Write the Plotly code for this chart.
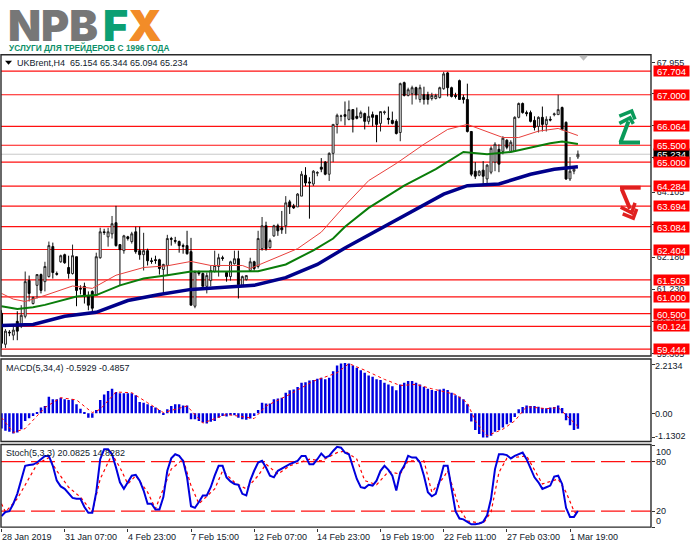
import plotly.graph_objects as go

W, H = 691, 549

# ---------- data ----------
opens = [60.51,59.59,59.95,59.86,60.27,60.13,60.42,61.48,60.80,61.34,61.66,61.45,61.60,62.49,61.69,62.04,62.25,61.87,61.69,62.19,
         61.25,61.31,61.04,61.16,61.04,62.16,62.93,62.78,62.87,63.20,62.55,62.37,62.78,62.64,62.93,62.37,62.25,62.37,62.07,62.10,
         62.10,61.81,61.93,62.73,62.67,62.64,62.52,62.52,62.34,60.72,61.75,61.69,61.31,61.48,61.75,61.90,62.16,61.72,61.60,61.98,
         62.13,61.34,61.51,61.78,62.04,61.90,62.43,63.11,62.46,62.81,63.11,63.05,63.11,63.82,63.70,63.67,63.99,64.61,64.41,64.35,
         64.67,64.85,65.00,64.64,65.26,66.12,66.36,66.41,66.27,66.56,66.36,66.33,66.44,66.21,66.41,66.39,66.15,66.47,66.30,66.24,
         66.21,65.88,67.36,66.98,67.03,67.21,66.86,67.00,67.00,66.89,66.89,66.92,67.18,67.65,67.21,66.98,67.42,66.92,66.86,65.91,
         64.73,64.61,64.76,64.50,64.70,65.00,65.38,65.32,65.65,65.32,65.32,66.33,66.74,66.47,66.47,66.24,66.06,66.33,66.12,66.27,
         66.41,66.41,66.62,66.18,64.50,64.73,65.154]
highs = [60.60,60.04,60.01,60.13,60.57,60.75,61.75,61.63,61.01,61.66,61.69,62.04,62.64,62.61,61.75,62.25,62.28,62.22,62.55,62.19,
         61.34,61.42,61.16,61.19,62.31,63.05,63.02,63.05,63.40,63.70,62.55,62.84,62.81,62.93,63.08,63.08,62.90,62.43,62.16,62.22,
         62.13,61.98,62.84,62.78,62.78,62.67,62.58,62.96,62.75,61.78,61.78,61.72,61.72,61.93,62.37,62.28,62.22,61.75,62.07,62.37,
         62.37,61.63,61.63,62.16,62.07,62.96,63.37,63.23,62.73,63.14,63.17,63.55,63.99,63.88,63.76,64.08,64.73,64.85,64.55,64.76,
         64.73,65.12,65.03,65.29,66.12,66.44,66.41,66.80,66.83,66.56,66.62,66.53,66.47,66.65,66.50,66.39,66.50,66.53,66.65,66.50,
         66.27,67.36,67.39,67.21,67.27,67.24,67.30,67.24,67.09,67.06,67.03,67.24,67.68,67.68,67.24,67.06,67.45,67.00,67.33,65.91,
         65.00,64.76,65.03,64.94,65.47,65.59,65.53,65.77,65.68,65.65,66.36,66.77,66.77,66.53,66.53,66.36,66.36,66.65,66.36,66.36,
         66.47,67.00,66.65,66.21,65.15,64.88,65.344]
lows = [59.48,59.48,59.83,59.71,59.71,60.07,60.36,60.86,60.77,60.95,61.10,61.16,61.57,61.54,61.63,62.01,61.98,61.54,61.66,60.72,
        61.07,60.80,60.60,60.57,61.04,62.13,62.84,62.49,62.73,62.49,61.34,62.28,62.67,62.58,62.28,62.10,61.78,61.93,61.98,61.98,
        61.66,61.10,61.63,62.52,62.58,62.31,62.28,62.25,60.75,60.66,61.63,61.31,61.10,61.31,61.72,61.60,62.07,61.45,61.48,61.96,
        60.95,61.31,61.48,61.75,61.78,61.84,62.37,62.37,62.43,62.78,62.81,62.87,62.87,63.46,63.61,63.67,63.99,64.29,63.32,64.29,
        64.58,64.70,64.61,64.44,65.00,65.85,66.21,66.09,66.24,65.88,66.27,66.30,65.97,66.12,66.06,65.59,65.91,66.41,66.12,66.12,
        65.82,65.62,66.95,66.95,66.71,66.86,66.77,66.71,66.71,66.83,66.86,66.89,67.15,66.95,66.92,66.89,66.86,66.74,65.88,64.58,
        64.50,64.58,64.35,64.35,64.64,64.73,64.70,65.23,65.38,65.32,65.32,66.30,66.44,66.36,66.18,65.94,65.88,65.91,65.91,66.21,
        66.36,66.41,65.94,64.47,64.44,64.64,65.094]
closes = [59.62,59.98,59.93,60.01,59.98,60.45,61.45,61.10,60.98,61.66,61.19,61.90,62.52,61.72,61.67,62.22,62.01,61.69,62.22,61.19,
          61.23,61.01,60.75,60.66,62.19,62.93,62.91,62.93,63.17,62.52,62.40,62.81,62.73,62.87,62.34,62.25,62.37,62.07,62.05,62.08,
          61.84,61.96,62.73,62.71,62.65,62.52,62.50,62.28,60.75,61.75,61.69,61.31,61.63,61.78,61.93,62.16,62.14,61.60,62.04,62.13,
          61.36,61.60,61.63,62.04,61.84,62.73,63.11,62.43,62.67,63.11,62.96,62.99,63.79,63.67,63.64,64.05,64.64,64.38,64.38,64.73,
          64.69,64.79,64.64,65.26,66.12,66.39,66.37,66.36,66.56,66.27,66.30,66.47,66.21,66.36,66.33,66.12,66.50,66.49,66.27,66.15,
          65.85,67.33,66.98,67.15,67.21,67.00,67.21,66.86,66.86,66.98,66.98,67.21,67.62,67.21,66.95,66.95,66.86,66.86,65.91,64.64,
          64.58,64.73,64.58,64.91,65.41,65.53,64.94,65.71,65.44,65.59,66.33,66.74,66.47,66.44,66.21,66.03,66.33,66.12,66.27,66.25,
          66.43,66.56,65.97,64.50,64.73,64.79,65.234]

ma_red_idx = [0,3,6,11,18,23,29,36,42,48,53,61,63,71,75,81,87,93,100,107,113,118,127,131,136,141,146]
ma_red = [61.10,60.93,60.86,61.04,61.32,61.25,61.64,61.87,61.92,62.05,61.93,61.93,61.84,62.23,62.43,62.92,63.71,
          64.45,64.96,65.53,65.97,66.12,65.73,65.73,65.92,66.00,65.79]
ma_green_idx = [0,4,8,11,19,24,30,36,42,48,57,65,72,79,84,87,93,102,110,117,123,129,139,142,146]
ma_green = [60.72,60.64,60.69,60.76,61.01,61.05,61.34,61.54,61.64,61.75,61.75,61.76,61.96,62.38,62.73,63.08,63.64,
            64.30,64.79,65.30,65.23,65.30,65.56,65.61,65.54]
ma_navy_idx = [0,8,16,24,32,40,48,56,64,72,80,87,96,104,112,118,126,134,140,146]
ma_navy = [60.15,60.18,60.42,60.54,60.89,61.07,61.22,61.28,61.34,61.57,61.96,62.45,63.02,63.52,64.05,64.30,
           64.35,64.64,64.79,64.86]

levels = [67.704,67.000,66.064,65.500,65.000,64.284,63.694,63.084,62.404,61.503,61.000,60.500,60.124,59.444]
level_labels = ["67.704","67.000","66.064","65.500","65.000","64.284","63.694","63.084","62.404","61.503","61.000","60.500","60.124","59.444"]
last_price = 65.234
price_ticks = [67.955,67.030,66.080,65.130,64.105,63.155,62.180,61.230,60.255,59.305]
price_ticktext = ["67.955","","","","64.105","","62.180","61.230","60.255","59.305"]

macd_hist = [-.70,-.80,-.85,-.92,-.88,-.73,-.35,-.23,-.12,.06,.26,.33,.76,.64,.64,.71,.64,.61,.64,.41,
             .21,.03,-.20,-.21,.15,.61,.86,1.02,1.12,.97,.91,.91,.91,.91,.82,.52,.48,.41,.33,.26,
             .15,-.05,.18,.33,.41,.41,.36,.36,-.27,-.27,-.35,-.42,-.47,-.39,-.35,-.20,-.12,-.15,-.09,-.09,
             -.20,-.27,-.30,-.24,-.12,.15,.48,.45,.45,.64,.67,.71,.94,1.05,1.09,1.20,1.39,1.42,1.50,1.52,
             1.58,1.62,1.55,1.62,1.92,2.18,2.27,2.30,2.27,2.18,2.08,1.97,1.85,1.73,1.67,1.55,1.52,1.39,1.32,1.24,
             1.05,1.32,1.39,1.47,1.47,1.39,1.32,1.21,1.12,1.06,1.02,1.09,1.12,1.06,.94,.82,.76,.64,.41,-.38,
             -.76,-.95,-1.11,-1.11,-1.03,-.85,-.76,-.65,-.50,-.42,-.17,.18,.29,.36,.33,.33,.30,.24,.23,.26,
             .29,.36,.24,-.32,-.55,-.76,-.71]
macd_sig_idx = [0,3,6,9,11,15,19,23,25,29,33,37,41,47,51,57,64,67,73,79,85,88,92,97,101,105,109,115,118,120,123,127,130,133,138,141,146]
macd_sig = [-.20,-.88,-.70,-.12,.26,.71,.61,.03,.18,.97,.94,.48,.03,.33,-.45,-.05,-.24,.33,.86,1.47,1.85,2.27,1.97,1.55,
            1.27,1.32,1.12,.86,.48,-.35,-1.03,-.73,-.35,.30,.21,.26,-.60]
macd_ticks = [2.2134,0,-1.1302]

stoch_main = [14,19,20,29,41,59,75,76,76.5,79,83,87,87,75,57,50,47,41,36,35,
              35,25,18,18,43,83,95,95,89,73,55,47,55,63,64,57,45,29,29,22,
              22,37,69,84,89,87,81,61,26,24,31,39,39,49,63,75,75,61,56,53,
              52,41,39,57,69,79,81,73,63,61,69,72,75,77,79,81,87,87,77,77,
              83,90,85,87,93,98,97,91,89,73,59,49,48,52,51,57,69,75,70,63,
              45,67,75,87,85,85,79,63,43,38,41,57,75,75,45,20,11,10,7,4,
              4,5,7,15,35,71,89,89,88,84,87,89,91,83,71,61,55,47,49,51,
              62,63,53,24,13,13,20.08]
stoch_sig_idx = [0,1,4,7,9,12,14,17,20,23,25,28,30,32,34,37,39,43,46,48,50,54,56,59,62,65,67,70,73,78,81,85,87,
                 90,92,95,98,101,103,107,109,112,113,116,118,122,124,126,128,133,137,141,143,145,146]
stoch_sig = [29,19,35,61,77,85,69,49,37,19,59,89,73,53,63,43,23,71,83,51,29,47,69,55,47,63,77,65,75,83,81,91,93,
             83,57,52,68,65,81,81,43,61,69,23,8,5,19,67,84,87,53,59,43,20,14.83]
stoch_ticks = [100,80,20,0]

time_idx = [0,16,32,48,64,80,96,112,128,144]
time_labels = ["28 Jan 2019","31 Jan 07:00","4 Feb 23:00","7 Feb 15:00","12 Feb 07:00",
               "14 Feb 23:00","19 Feb 19:00","22 Feb 11:00","27 Feb 03:00","1 Mar 19:00"]

header_main = "UKBrent,H4  65.154 65.344 65.094 65.234"
header_macd = "MACD(5,34,4) -0.5929 -0.4857"
header_stoch = "Stoch(5,3,3) 20.0825 14.8282"
logo_sub = "УСЛУГИ ДЛЯ ТРЕЙДЕРОВ С 1996 ГОДА"

# ---------- layout helpers (pixels of the page -> paper fractions) ----------
def fx(p): return p / W
def fy(p): return 1 - p / H

X0, STEP = 1.5, 3.948
L, R = 1, 651
xrange_ = [(L - X0) / STEP, (R - X0) / STEP]
FONT = "Liberation Sans"
TXT = "#10202c"

bars = list(range(len(opens)))
fig = go.Figure()

fig.add_trace(go.Candlestick(x=bars, open=opens, high=highs, low=lows, close=closes, yaxis="y",
    increasing=dict(line=dict(color="#222222", width=1), fillcolor="#f4f4f4"),
    decreasing=dict(line=dict(color="#000000", width=1), fillcolor="#000000"),
    whiskerwidth=0, hoverinfo="skip", showlegend=False))
fig.add_trace(go.Scatter(x=ma_red_idx, y=ma_red, yaxis="y", mode="lines", line=dict(color="#e8403c", width=1), hoverinfo="skip"))
fig.add_trace(go.Scatter(x=ma_green_idx, y=ma_green, yaxis="y", mode="lines", line=dict(color="#0a7d0a", width=2), hoverinfo="skip"))
fig.add_trace(go.Scatter(x=ma_navy_idx, y=ma_navy, yaxis="y", mode="lines", line=dict(color="#00008b", width=3.5), hoverinfo="skip"))

fig.add_trace(go.Bar(x=bars, y=macd_hist, yaxis="y2", width=0.62, marker=dict(color="#0000e0", line=dict(width=0)), hoverinfo="skip"))
fig.add_trace(go.Scatter(x=macd_sig_idx, y=macd_sig, yaxis="y2", mode="lines", line=dict(color="#ff0000", width=1, dash="dot"), hoverinfo="skip"))

fig.add_trace(go.Scatter(x=stoch_sig_idx, y=stoch_sig, yaxis="y3", mode="lines", line=dict(color="#ff0000", width=1.2, dash="dot"), hoverinfo="skip"))
fig.add_trace(go.Scatter(x=bars, y=stoch_main, yaxis="y3", mode="lines", line=dict(color="#0000dd", width=2), hoverinfo="skip"))

shapes = []
shapes.append(dict(type="line", xref="paper", yref="y", x0=fx(L), x1=fx(R), y0=last_price, y1=last_price,
                   line=dict(color="#c8c8c8", width=1), layer="below"))
for lv in levels:
    shapes.append(dict(type="line", xref="paper", yref="y", x0=fx(L), x1=fx(R), y0=lv, y1=lv,
                       line=dict(color="#ff1010", width=1.2), layer="below"))
for lv in (80, 20):
    shapes.append(dict(type="line", xref="paper", yref="y3", x0=fx(L), x1=fx(R), y0=lv, y1=lv,
                       line=dict(color="#ff1010", width=1.2, dash="24px,6px"), layer="below"))
for top, bottom in ((55, 358), (361, 444), (447, 530)):
    shapes.append(dict(type="rect", xref="paper", yref="paper", x0=fx(L), x1=fx(R), y0=fy(bottom), y1=fy(top),
                       line=dict(color="#2a2a2a", width=1.4), layer="above"))

def poly(points, color, width):
    d = "M " + " L ".join(f"{fx(a):.5f},{fy(b):.5f}" for a, b in points)
    return dict(type="path", xref="paper", yref="paper", path=d, line=dict(color=color, width=width), layer="above")

GREEN, RED = "#0a9a5a", "#e0201f"
shapes += [poly([(619, 143.3), (640, 143.3)], GREEN, 4),
           poly([(620.5, 143.3), (628.5, 122)], GREEN, 4),
           poly([(619.3, 124), (630, 118.5), (633.3, 124.5)], GREEN, 3.5),
           poly([(619.3, 116.7), (631.7, 111.7), (635, 120)], GREEN, 3.5),
           poly([(620, 188.7), (640.7, 188.7)], RED, 4),
           poly([(621.7, 190), (630, 210)], RED, 4),
           poly([(620.7, 208.3), (631.7, 214), (635, 204)], RED, 3.5),
           poly([(622.7, 215), (633.3, 219.3), (636.7, 210)], RED, 3.5)]
shapes.append(dict(type="path", xref="paper", yref="paper", fillcolor="#bdbdbd", line=dict(width=0),
                   path=f"M {fx(579)},{fy(56)} L {fx(588)},{fy(56)} L {fx(583.5)},{fy(61)} Z", layer="above"))
shapes.append(dict(type="path", xref="paper", yref="paper", fillcolor="#000000", line=dict(width=0),
                   path=f"M {fx(5)},{fy(61)} L {fx(12)},{fy(61)} L {fx(8.5)},{fy(65)} Z", layer="above"))

ann = []
def text_px(x, y, s, size=9, color=TXT, weight=None, anchor="left", family=FONT):
    f = dict(family=family, size=size, color=color)
    if weight:
        f["weight"] = weight
    ann.append(dict(xref="paper", yref="paper", x=fx(x), y=fy(y), text=s, showarrow=False, xanchor=anchor,
                    yanchor="middle", font=f, borderpad=0))

# logo
text_px(6.5, 25, "NPB", size=43, color="#777777", weight=900, family="Inter")
text_px(102, 25, "F", size=43, color="#0b9f73", weight=900, family="Inter")
text_px(127, 25, "X", size=43, color="#f28c28", weight=900, family="Inter")
text_px(8, 48, logo_sub, size=8.3, color="#0b8f68", weight=700)

text_px(16, 63.5, header_main, size=9)
text_px(5, 370, header_macd, size=9)
text_px(5, 455.5, header_stoch, size=9)

def tag(value, s, bg):
    ann.append(dict(xref="paper", yref="y", x=fx(653), y=value, text=s, showarrow=False, xanchor="left", yanchor="middle",
                    bgcolor=bg, width=35, height=10, borderpad=0, align="center",
                    font=dict(family=FONT, size=9.5, color="#ffffff")))
tag(last_price, f"{last_price:.3f}", "#000000")
for lv, s in zip(levels, level_labels):
    tag(lv, s, "#ff0000")

for y, s in ((368.5, "2.2134"), (416, "0.00"), (438, "-1.1302")):
    text_px(654, y, s, size=9)
for y, s in ((454, "100"), (464.5, "80"), (514, "20"), (524, "0")):
    text_px(655, y, s, size=9)

for i, s in zip(time_idx, time_labels):
    ann.append(dict(xref="x", yref="paper", x=i, y=fy(540), text=s, showarrow=False, xanchor="left", yanchor="middle",
                    xshift=-1, font=dict(family=FONT, size=9, color=TXT), borderpad=0))

fig.update_layout(
    width=W, height=H, margin=dict(l=0, r=0, t=0, b=0, pad=0), paper_bgcolor="white", plot_bgcolor="white",
    showlegend=False, barmode="overlay", shapes=shapes, annotations=ann,
    xaxis=dict(domain=[fx(L), fx(R)], range=xrange_, anchor="y3", rangeslider=dict(visible=False), showgrid=False,
               zeroline=False, tickmode="array", tickvals=time_idx, ticktext=[""] * len(time_idx), ticks="outside",
               ticklen=3, tickcolor="#333333", showline=False),
    yaxis=dict(domain=[fy(358), fy(55)], range=[59.24, 68.19], side="right", anchor="x", showgrid=False, zeroline=False,
               tickmode="array", tickvals=price_ticks, ticktext=price_ticktext, ticks="outside", ticklen=3,
               tickcolor="#333333", tickfont=dict(family=FONT, size=9, color=TXT), showline=False),
    yaxis2=dict(domain=[fy(444), fy(361)], range=[-1.295, 2.48], side="right", anchor="x", showgrid=False, zeroline=False,
                tickmode="array", tickvals=macd_ticks, showticklabels=False, ticks="outside", ticklen=3,
                tickcolor="#333333", showline=False),
    yaxis3=dict(domain=[fy(530.5), fy(447)], range=[0, 100.8], side="right", anchor="x", showgrid=False, zeroline=False,
                tickmode="array", tickvals=stoch_ticks, showticklabels=False, ticks="outside", ticklen=3,
                tickcolor="#333333", showline=False),
)

fig.write_html("out.html", config=dict(displayModeBar=False),
               post_script="document.body.style.margin='0';document.documentElement.style.overflow='hidden';")
